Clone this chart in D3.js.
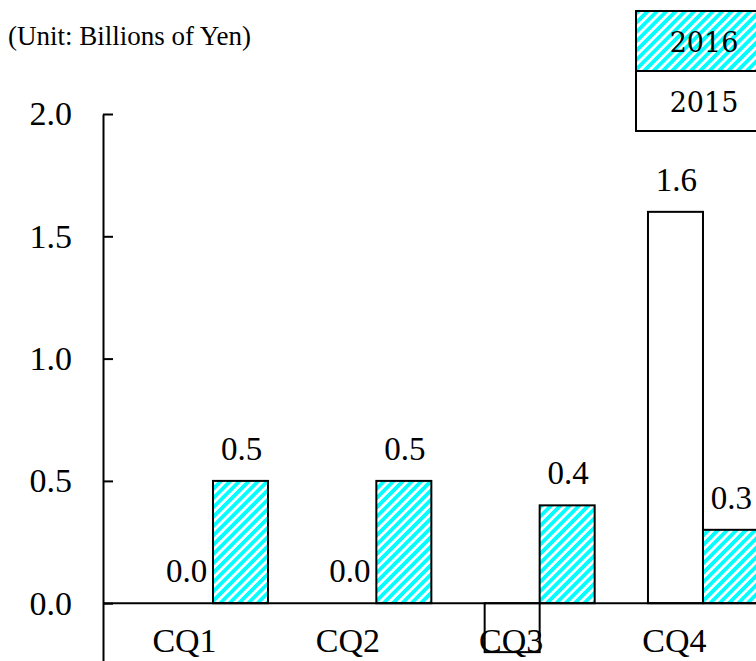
<!DOCTYPE html>
<html>
<head>
<meta charset="utf-8">
<script src="https://cdn.jsdelivr.net/npm/d3@7"></script>
<style>
  html, body { margin: 0; padding: 0; background: #fff; overflow: hidden; }
  svg { display: block; }
  text { font-family: "Liberation Serif", "Times New Roman", serif; fill: #000; }
</style>
</head>
<body>
<svg id="chart" width="756" height="661"></svg>
<script>
// Quarterly figures, billions of yen
const categories = ["CQ1", "CQ2", "CQ3", "CQ4"];
const seriesNames = ["2015", "2016"];
const values2015 = [0.0, 0.0, -0.2, 1.6];
const values2016 = [0.5, 0.5, 0.4, 0.3];
const yTickValues = [0.0, 0.5, 1.0, 1.5, 2.0];
const unitLabel = "(Unit: Billions of Yen)";

const svg = d3.select("#chart");

// hatch fill for the 2016 series
const defs = svg.append("defs");
const pat = defs.append("pattern")
  .attr("id", "hatch")
  .attr("patternUnits", "userSpaceOnUse")
  .attr("width", 6.6).attr("height", 6.6)
  .attr("patternTransform", "rotate(45)");
pat.append("rect").attr("width", 6.6).attr("height", 6.6).attr("fill", "#fff");
pat.append("rect").attr("width", 3.8).attr("height", 6.6).attr("fill", "#00ffff");

const fills = { "2015": "#ffffff", "2016": "url(#hatch)" };

const x0 = d3.scaleBand().domain(categories).range([103, 813])
  .paddingInner(0.3264).paddingOuter(0.3368);
const x1 = d3.scaleBand().domain(seriesNames).range([0, x0.bandwidth()]);
const y = d3.scaleLinear().domain([-0.5, 2.0]).range([725.5, 114]);

const rows = categories.map((c, i) => ({
  cat: c,
  vals: [
    { s: "2015", v: values2015[i] },
    { s: "2016", v: values2016[i] }
  ]
}));

// unit caption
svg.append("text").attr("x", 8).attr("y", 45)
  .attr("font-size", 27).text(unitLabel);

// y axis with inward ticks
const yAxis = d3.axisLeft(y)
  .tickValues(yTickValues)
  .tickFormat(d3.format(".1f"))
  .tickSizeInner(-10).tickSizeOuter(0).tickPadding(31);
const gy = svg.append("g").attr("transform", "translate(103,0)").call(yAxis);
gy.select(".domain").attr("stroke", "#000").attr("stroke-width", 2);
gy.selectAll(".tick line").attr("stroke", "#000").attr("stroke-width", 2);
gy.selectAll(".tick text")
  .attr("font-family", "'Liberation Serif', serif")
  .attr("font-size", 34).attr("fill", "#000");

// bars
const groups = svg.append("g").selectAll("g").data(rows).join("g")
  .attr("transform", d => `translate(${x0(d.cat)},0)`);

groups.selectAll("rect").data(d => d.vals).join("rect")
  .attr("x", d => x1(d.s))
  .attr("y", d => y(Math.max(0, d.v)))
  .attr("width", x1.bandwidth())
  .attr("height", d => Math.abs(y(d.v) - y(0)))
  .attr("fill", d => fills[d.s])
  .attr("stroke", "#000")
  .attr("stroke-width", 2);

// value labels above the non-negative bars
groups.selectAll("text.val").data(d => d.vals.filter(e => e.v >= 0)).join("text")
  .attr("class", "val")
  .attr("x", d => x1(d.s) + x1.bandwidth() / 2 + 1)
  .attr("y", d => y(d.v) - 21)
  .attr("text-anchor", "middle")
  .attr("font-size", 33)
  .text(d => d3.format(".1f")(d.v));

// zero baseline
svg.append("line")
  .attr("x1", 103).attr("x2", 813)
  .attr("y1", y(0)).attr("y2", y(0))
  .attr("stroke", "#000").attr("stroke-width", 2);

// category labels
svg.append("g").selectAll("text").data(categories).join("text")
  .attr("x", d => x0(d) + x1("2015") + x1.bandwidth() / 2 - 1)
  .attr("y", 652)
  .attr("text-anchor", "middle")
  .attr("font-size", 34)
  .text(d => d);

// legend
const legend = svg.append("g").attr("transform", "translate(636,11)");
const legendItems = ["2016", "2015"];
legend.selectAll("rect").data(legendItems).join("rect")
  .attr("x", 0).attr("y", (d, i) => i * 60)
  .attr("width", 136).attr("height", 60)
  .attr("fill", d => fills[d])
  .attr("stroke", "#000").attr("stroke-width", 2);
legend.selectAll("text").data(legendItems).join("text")
  .attr("x", 68).attr("y", (d, i) => i * 60 + 31)
  .attr("text-anchor", "middle")
  .attr("dominant-baseline", "central")
  .style("font-family", "'DejaVu Serif', serif")
  .attr("font-size", 27)
  .text(d => d);
</script>
</body>
</html>
